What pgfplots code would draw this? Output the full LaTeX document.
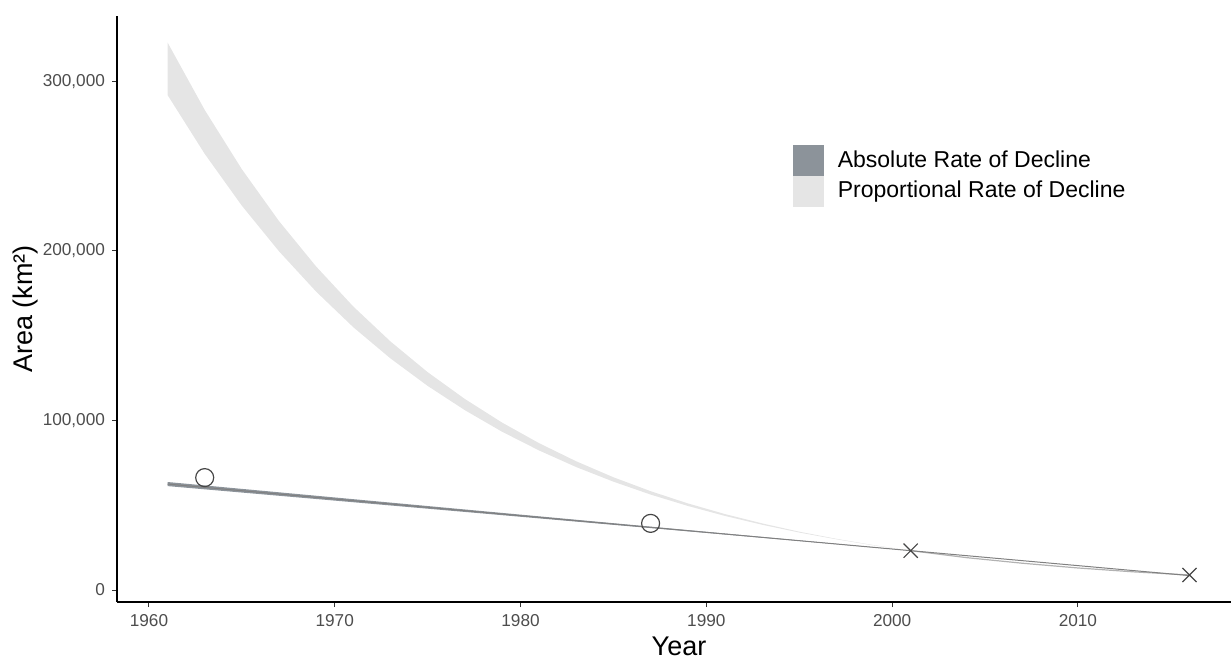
\documentclass[border=0pt]{standalone}
\usepackage{fontspec}
\setmainfont{Liberation Sans}
\usepackage{pgfplots}
\pgfplotsset{compat=1.18}
\definecolor{darkband}{RGB}{140,147,154}
\definecolor{lightband}{RGB}{229,229,229}
\definecolor{ticklab}{RGB}{77,77,77}
\definecolor{markc}{RGB}{70,70,70}
\begin{document}
\begin{tikzpicture}
\begin{axis}[
  scale only axis,
  width=557pt, height=293pt,
  at={(0,0)}, anchor=south west,
  xmin=1958.28, xmax=2018.24,
  ymin=-7080, ymax=338600,
  scaled x ticks=false, scaled y ticks=false,
  axis x line=bottom, axis y line=left,
  axis line style={-, line width=1pt, black},
  xtick={1960,1970,1980,1990,2000,2010},
  xticklabels={1960,1970,1980,1990,2000,2010},
  ytick={0,100000,200000,300000},
  yticklabels={0,{100,000},{200,000},{300,000}},
  tick align=outside,
  major tick length=2.5pt,
  tick style={line width=0.5pt, black!80},
  ticklabel style={font=\fontsize{8.6}{10}\selectfont, text=ticklab},
  xlabel={Year},
  ylabel={Area (km²)},
  label style={font=\fontsize{13.5}{16}\selectfont},
  xlabel style={at={(axis description cs:0.5045,0)}, anchor=center, yshift=-22pt},
  ylabel style={at={(axis description cs:0,0.5)}, anchor=center, rotate=0, yshift=45.5pt},
  clip=false,
  legend style={at={(axis description cs:0.6068,0.78)}, anchor=north west,
    draw=none, fill=none, inner sep=0pt, outer sep=0pt, row sep=0pt,
    font=\fontsize{11.5}{13}\selectfont,
    nodes={inner xsep=7pt, inner ysep=0pt}},
  legend cell align=left,
]
% proportional band
\addplot[fill=lightband, draw=none, forget plot] coordinates {
(1961,323000) (1963,283200) (1965,248200) (1967,217600) (1969,190800)
(1971,167200) (1973,146600) (1975,128500) (1977,112700) (1979,98800)
(1981,86600) (1983,75900) (1985,66500) (1987,58300) (1989,51100)
(1991,44800) (1993,39300) (1995,34400) (1997,30200) (1999,26500) (2001,23200)
(1999,26300) (1997,29900) (1995,33900) (1993,38500) (1991,43700)
(1989,49600) (1987,56300) (1985,63900) (1983,72500) (1981,82300)
(1979,93400) (1977,106100) (1975,120400) (1973,136600) (1971,155000)
(1969,176000) (1967,199800) (1965,226700) (1963,257300) (1961,292000)
} -- cycle;
% proportional projection after 2001
\addplot[draw=black!30, line width=0.6pt, forget plot] coordinates {
(2001,23200) (2004,19100) (2007,15800) (2010,13000) (2013,10700) (2016,8850)
};
% absolute band
\addplot[fill=darkband, draw=none, forget plot] coordinates {
(1961,63700) (2001,23200) (1961,61300)
} -- cycle;
\addplot[draw=black!50, line width=0.5pt, forget plot] coordinates {
(1961,62500) (2001,23200) (2016,8500)
};
% observed points
\addplot[only marks, mark=o, mark size=4.5pt, mark options={draw=markc, line width=0.6pt}, forget plot]
coordinates {(1963,66300) (1987,39300)};
\addplot[only marks, mark=x, mark size=5pt, mark options={draw=markc, line width=0.6pt}, forget plot]
coordinates {(2001,23200) (2016,8850)};
% legend
\addlegendimage{legend image code/.code={\fill[darkband] (0pt,-7.5pt) rectangle (15pt,7.5pt);}}
\addlegendentry{Absolute Rate of Decline}
\addlegendimage{legend image code/.code={\fill[lightband] (0pt,-7.5pt) rectangle (15pt,7.5pt);}}
\addlegendentry{Proportional Rate of Decline}
\end{axis}
\pgfresetboundingbox
\useasboundingbox (-58.5pt,-28.5pt) rectangle (557pt,301pt);
\end{tikzpicture}
\end{document}
